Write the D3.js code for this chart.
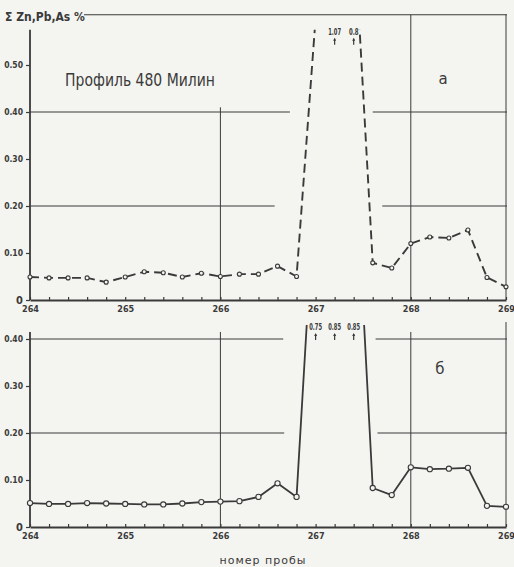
<!DOCTYPE html>
<html>
<head>
<meta charset="utf-8">
<script src="https://cdn.jsdelivr.net/npm/d3@7"></script>
<style>
  body { margin: 0; background: #f4f4f0; }
  svg { display: block; }
  text { fill: #333; }
</style>
</head>
<body>
<svg id="chart" width="514" height="567"></svg>
<script>
// sample numbers along the profile
const sampleNo = [264.0, 264.2, 264.4, 264.6, 264.8, 265.0, 265.2, 265.4, 265.6, 265.8,
                  266.0, 266.2, 266.4, 266.6, 266.8, 267.0, 267.2, 267.4, 267.6, 267.8,
                  268.0, 268.2, 268.4, 268.6, 268.8, 269.0];
// panel a (dashed)
const valuesA = [0.049, 0.047, 0.047, 0.047, 0.038, 0.049, 0.060, 0.058, 0.049, 0.057,
                 0.050, 0.055, 0.055, 0.072, 0.050, 0.60, 1.07, 0.80, 0.079, 0.068,
                 0.120, 0.134, 0.132, 0.149, 0.048, 0.028];
// panel б (solid)
const valuesB = [0.051, 0.049, 0.049, 0.051, 0.050, 0.049, 0.048, 0.048, 0.050, 0.053,
                 0.054, 0.055, 0.064, 0.093, 0.064, 0.75, 0.85, 0.85, 0.083, 0.068,
                 0.127, 0.123, 0.124, 0.126, 0.045, 0.043];
const xTickValues = [264, 265, 266, 267, 268, 269];
const yTicksA = [0, 0.1, 0.2, 0.3, 0.4, 0.5];
const yTicksB = [0, 0.1, 0.2, 0.3, 0.4];
const peakAtA = [267.2, 267.4];
const peakLabelsA = ["1.07", "0.8"];
const peakAtB = [267.0, 267.2, 267.4];
const peakLabelsB = ["0.75", "0.85", "0.85"];

const ink = "#3a3a3a";
const chart = d3.select("#chart");

let x = d3.scaleLinear().domain([264, 269]).range([30, 506]);
let yA = d3.scaleLinear().domain([0, 0.5]).range([300, 65]);
let yB = d3.scaleLinear().domain([0, 0.4]).range([527, 339]);

const tickFmt = d => d === 0 ? "0" : d3.format(".2f")(d);

function drawPanel(opts) {
    let y = opts.y;
    let g = chart.append("g");
    let x0 = x.range()[0], x1 = x.range()[1];

    // horizontal grid lines, broken where the peak goes through
    opts.grid.forEach(function(gl) {
        g.append("line").attr("x1", x0).attr("x2", x(gl.gap[0]))
            .attr("y1", y(gl.v)).attr("y2", y(gl.v))
            .attr("stroke", ink).attr("stroke-width", 1.1);
        g.append("line").attr("x1", x(gl.gap[1])).attr("x2", x1 + 1)
            .attr("y1", y(gl.v)).attr("y2", y(gl.v))
            .attr("stroke", ink).attr("stroke-width", 1.1);
    });
    // vertical grid lines
    opts.vgrid.forEach(function(vg) {
        g.append("line").attr("x1", x(vg.at)).attr("x2", x(vg.at))
            .attr("y1", y(vg.from)).attr("y2", y(0))
            .attr("stroke", ink).attr("stroke-width", 1);
    });

    // x axis
    let xAxis = d3.axisBottom(x)
        .tickValues(d3.range(264, 269.01, 0.2))
        .tickSizeInner(-3).tickSizeOuter(0)
        .tickFormat(d => Math.abs(d - Math.round(d)) < 1e-6 ? d3.format("d")(Math.round(d)) : "");
    let xg = g.append("g").attr("transform", "translate(0," + y(0) + ")").call(xAxis);
    xg.select(".domain").attr("stroke", ink).attr("stroke-width", 1.8);
    xg.selectAll(".tick line").attr("stroke", ink).attr("stroke-width", 1.2);
    xg.selectAll(".tick text")
        .attr("y", 6)
        .style("font-family", "'DejaVu Sans Condensed'")
        .style("font-weight", "bold")
        .style("font-size", "9px")
        .style("fill", ink);

    // y axis
    let yAxis = d3.axisLeft(y).tickValues(opts.yTicks).tickSizeInner(4).tickSizeOuter(0)
        .tickFormat(tickFmt);
    let yg = g.append("g").attr("transform", "translate(" + x0 + ",0)").call(yAxis);
    yg.select(".domain").remove();
    g.append("line").attr("x1", x0).attr("x2", x0)
        .attr("y1", y(opts.axisTop)).attr("y2", y(0))
        .attr("stroke", ink).attr("stroke-width", 1.8);
    yg.selectAll(".tick line").attr("stroke", ink).attr("stroke-width", 1.2);
    yg.selectAll(".tick text")
        .attr("x", -7)
        .style("font-family", "'DejaVu Sans Condensed'")
        .style("font-weight", "bold")
        .style("font-size", d => d === 0 ? "11px" : "8.5px")
        .style("fill", ink);

    // clip the curve at the top of the panel
    chart.append("clipPath").attr("id", opts.id)
        .append("rect")
        .attr("x", 0).attr("width", 514)
        .attr("y", y(opts.clipTop)).attr("height", y(0) - y(opts.clipTop) + 10);

    let pts = sampleNo.map((s, i) => ({ s: s, v: opts.values[i] }));
    let line = d3.line().x(d => x(d.s)).y(d => y(d.v));

    g.append("path")
        .datum(pts)
        .attr("clip-path", "url(#" + opts.id + ")")
        .attr("fill", "none")
        .attr("stroke", ink)
        .attr("stroke-width", opts.dashed ? 1.9 : 1.8)
        .attr("stroke-dasharray", opts.dashed ? "9,5" : null)
        .attr("stroke-linejoin", "round")
        .attr("d", line);

    g.selectAll("circle.pt")
        .data(pts.filter(d => d.v <= opts.clipTop))
        .enter().append("circle")
        .attr("class", "pt")
        .attr("cx", d => x(d.s))
        .attr("cy", d => y(d.v))
        .attr("r", opts.dashed ? 2.0 : 2.6)
        .attr("fill", "#f4f4f0")
        .attr("stroke", ink)
        .attr("stroke-width", 1.1);

    // labels for off-scale values
    let top = y(opts.clipTop);
    opts.peakAt.forEach(function(s, i) {
        let lab = opts.peakLabels[i];
        g.append("text")
            .attr("x", x(s)).attr("y", top + 5)
            .attr("text-anchor", "middle")
            .attr("textLength", lab.length * 3.2)
            .attr("lengthAdjust", "spacingAndGlyphs")
            .style("font-family", "'DejaVu Sans Condensed'")
            .style("font-weight", "bold")
            .style("font-size", "8.5px")
            .style("fill", ink)
            .text(lab);
        g.append("line")
            .attr("x1", x(s)).attr("x2", x(s))
            .attr("y1", top + 9).attr("y2", top + 15)
            .attr("stroke", ink).attr("stroke-width", 1.2);
        g.append("path")
            .attr("d", "M" + (x(s) - 1.5) + "," + (top + 11) + "L" + x(s) + "," + (top + 8) + "L" + (x(s) + 1.5) + "," + (top + 11) + "Z")
            .attr("fill", ink);
    });

    g.append("text")
        .attr("x", opts.letterX).attr("y", y(opts.letterV))
        .attr("text-anchor", "middle")
        .style("font-family", "'DejaVu Sans'")
        .style("font-size", "15px")
        .style("fill", ink)
        .text(opts.letter);
}

drawPanel({
    id: "clipA", y: yA, values: valuesA, dashed: true,
    yTicks: yTicksA, axisTop: 0.575, clipTop: 0.575,
    grid: [{ v: 0.4, gap: [266.73, 267.6] }, { v: 0.2, gap: [266.57, 267.7] }],
    vgrid: [{ at: 266, from: 0.41 }, { at: 268, from: 0.607 }, { at: 269, from: 0.607 }],
    peakAt: peakAtA, peakLabels: peakLabelsA,
    letter: "а", letterX: 443, letterV: 0.46
});

drawPanel({
    id: "clipB", y: yB, values: valuesB, dashed: false,
    yTicks: yTicksB, axisTop: 0.415, clipTop: 0.43,
    grid: [{ v: 0.4, gap: [266.66, 267.63] }, { v: 0.2, gap: [266.67, 267.65] }],
    vgrid: [{ at: 266, from: 0.415 }, { at: 268, from: 0.415 }, { at: 269, from: 0.436 }],
    peakAt: peakAtB, peakLabels: peakLabelsB,
    letter: "б", letterX: 440, letterV: 0.325
});

// header rule and title
chart.append("line")
    .attr("x1", 84).attr("x2", 507)
    .attr("y1", yA(0.607)).attr("y2", yA(0.607))
    .attr("stroke", ink).attr("stroke-width", 1.1);

chart.append("text")
    .attr("x", 5).attr("y", 21)
    .style("font-family", "'DejaVu Sans Condensed'")
    .style("font-weight", "bold")
    .style("font-size", "12px")
    .style("fill", ink)
    .text("Σ Zn,Pb,As %");

chart.append("text")
    .attr("x", 65).attr("y", 86)
    .attr("textLength", 150)
    .attr("lengthAdjust", "spacingAndGlyphs")
    .style("font-family", "'DejaVu Sans'")
    .style("font-size", "18px")
    .style("fill", ink)
    .text("Профиль 480  Милин");

chart.append("text")
    .attr("x", 263).attr("y", 564)
    .attr("text-anchor", "middle")
    .style("font-family", "'DejaVu Sans'")
    .style("font-size", "11px")
    .style("letter-spacing", "1px")
    .style("fill", ink)
    .text("номер пробы");
</script>
</body>
</html>
